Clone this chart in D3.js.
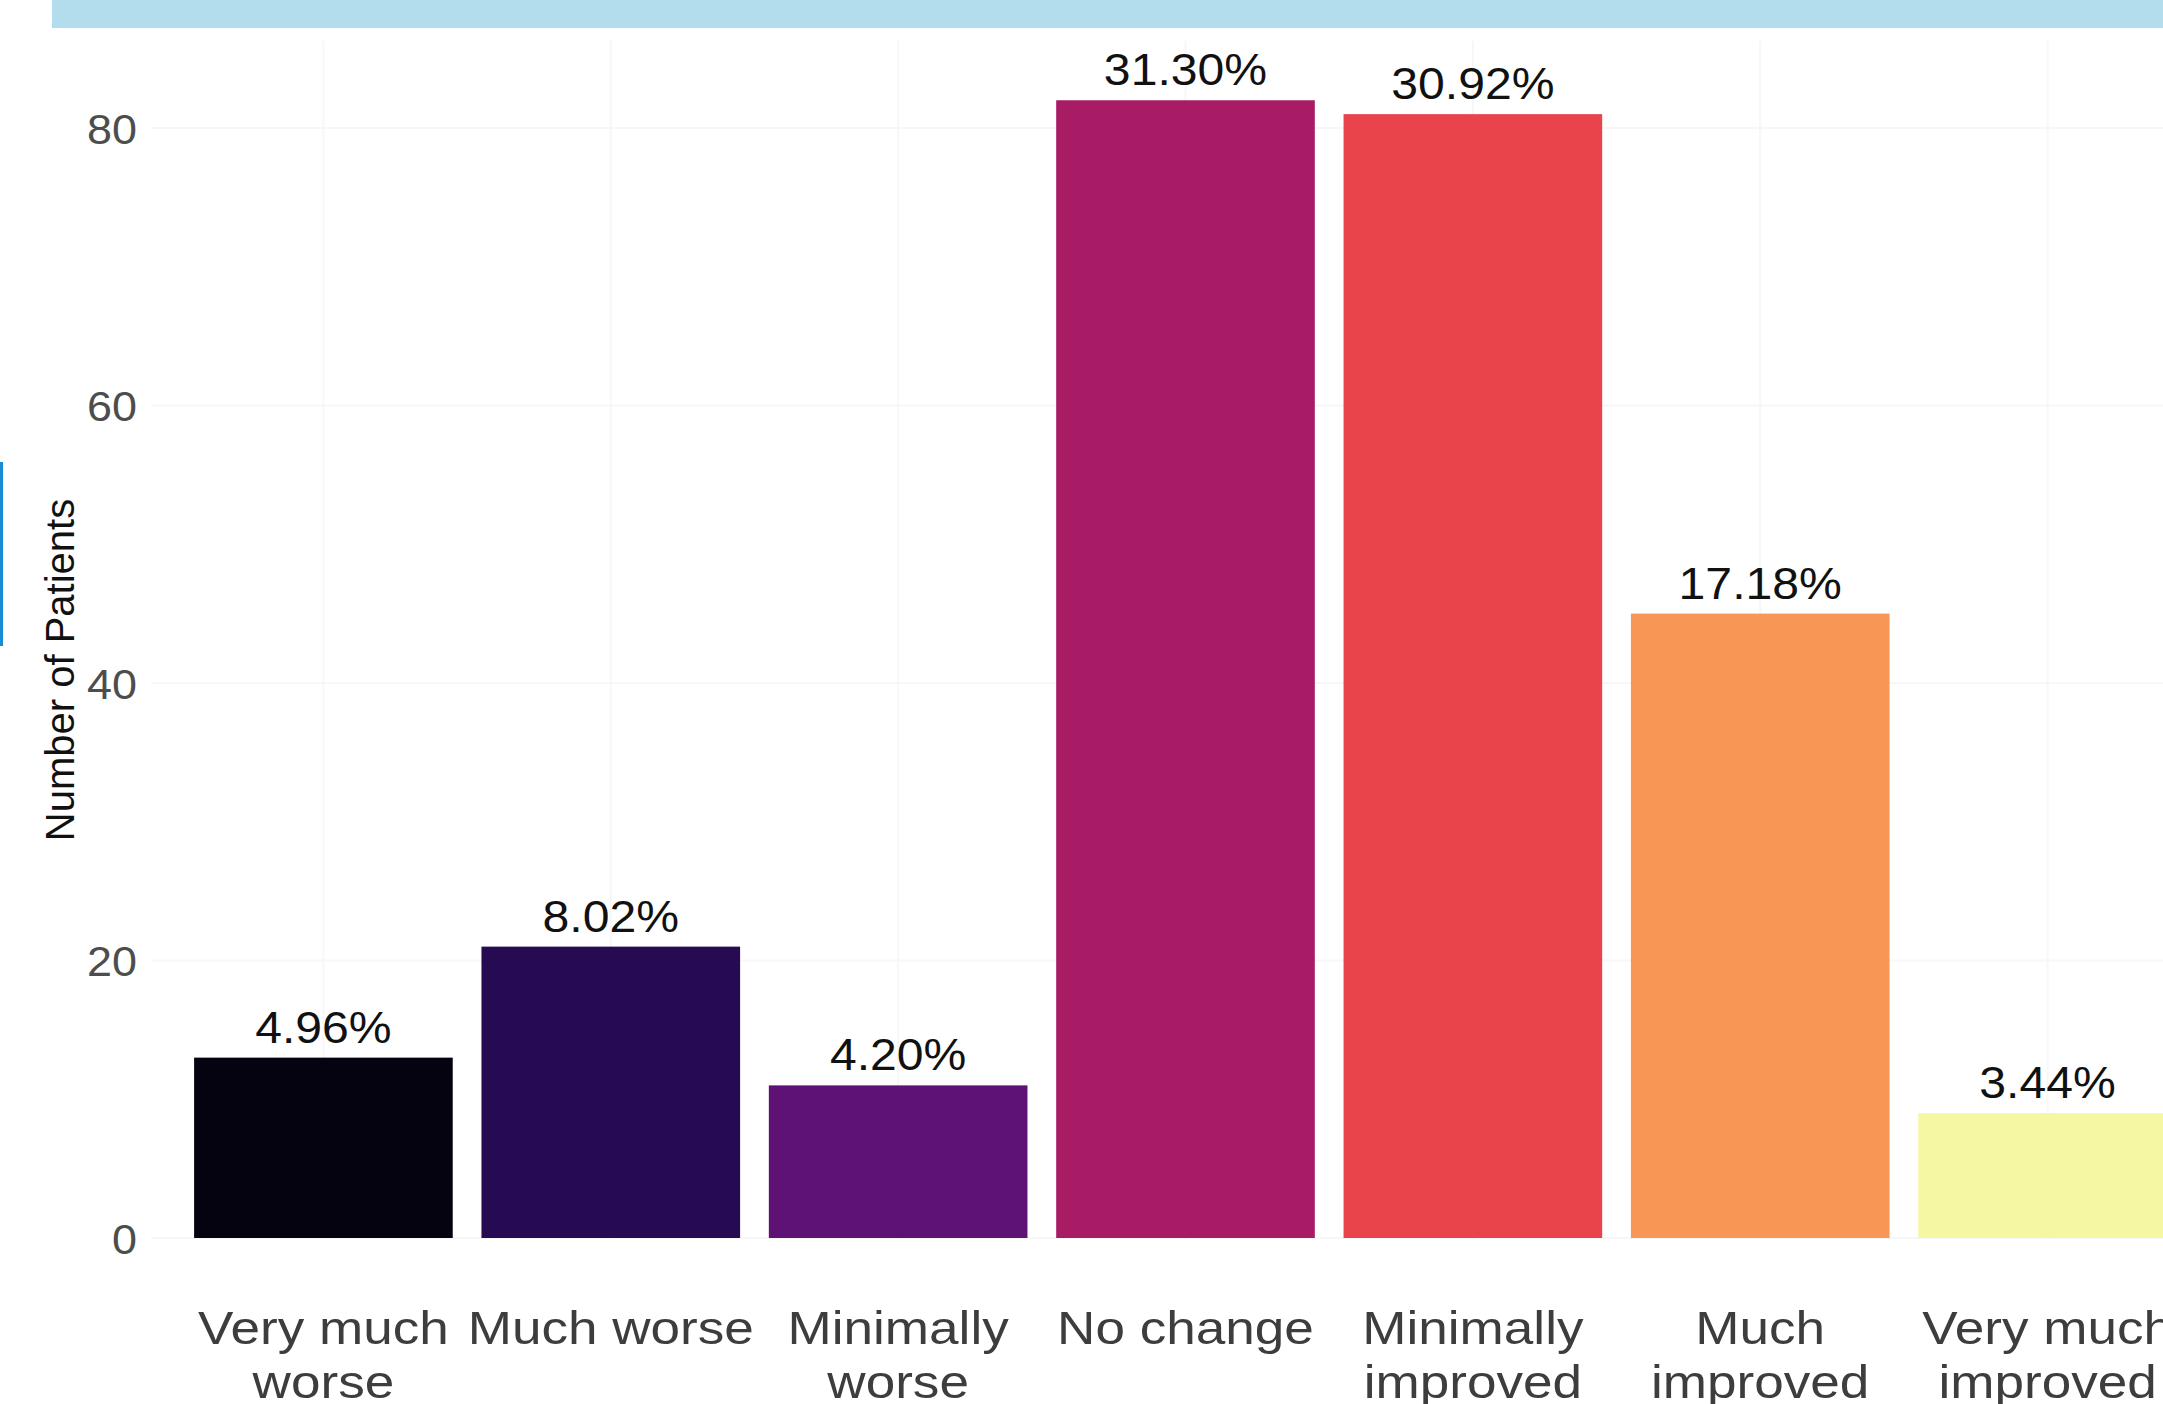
<!DOCTYPE html>
<html>
<head>
<meta charset="utf-8">
<script src="https://cdn.jsdelivr.net/npm/d3@7"></script>
<style>
    body { margin: 0; background: #ffffff; }
    svg { display: block; }
    text { font-family: "Liberation Sans", Arial, sans-serif; }
</style>
</head>
<body>
<script>
// values
var categories = ["Very much worse", "Much worse", "Minimally worse", "No change",
    "Minimally improved", "Much improved", "Very much improved"];
var categoryLines = [["Very much", "worse"], ["Much worse"], ["Minimally", "worse"], ["No change"],
    ["Minimally", "improved"], ["Much", "improved"], ["Very much", "improved"]];
var patients = [13, 21, 11, 82, 81, 45, 9];
var pctLabels = ["4.96%", "8.02%", "4.20%", "31.30%", "30.92%", "17.18%", "3.44%"];
var yTicks = [0, 20, 40, 60, 80];
var barColors = ["#060310", "#260b52", "#5e1276", "#a81c66", "#e9444b", "#f89656", "#f6f7a3"];

var W = 2163, H = 1404;
var svg, x, y;

function chart() {
    svg = d3.select("body").append("svg").attr("width", W).attr("height", H);

    // decorations around the plot
    svg.append("rect").attr("x", 52).attr("y", 0).attr("width", W - 52).attr("height", 28).attr("fill", "#b3dcec");
    svg.append("rect").attr("x", 0).attr("y", 462).attr("width", 3).attr("height", 184).attr("fill", "#1a8ad4");

    x = d3.scaleBand().domain(categories).range([151, 2220]).paddingInner(0.1).paddingOuter(0.15);
    y = d3.scaleLinear().domain([0, 80]).range([1238, 128]);

    // very faint grid (barely visible in the original)
    var grid = svg.append("g").attr("stroke", "#f7f7f7").attr("stroke-width", 2);
    grid.selectAll("line.h").data(yTicks).enter().append("line").attr("class", "h")
        .attr("x1", 151).attr("x2", W).attr("y1", y).attr("y2", y);
    grid.selectAll("line.v").data(categories).enter().append("line").attr("class", "v")
        .attr("x1", function (d) { return x(d) + x.bandwidth() / 2; })
        .attr("x2", function (d) { return x(d) + x.bandwidth() / 2; })
        .attr("y1", 41).attr("y2", 1240);

    svg.selectAll("rect.bar").data(categories).enter().append("rect").attr("class", "bar")
        .attr("x", function (d) { return x(d); })
        .attr("width", x.bandwidth())
        .attr("y", function (d, i) { return y(patients[i]); })
        .attr("height", function (d, i) { return y(0) - y(patients[i]); })
        .attr("fill", function (d, i) { return barColors[i]; });

    svg.selectAll("text.pct").data(categories).enter().append("text").attr("class", "pct")
        .attr("transform", function (d, i) {
            return "translate(" + (x(d) + x.bandwidth() / 2) + "," + (y(patients[i]) - 15) + ") scale(1.07,1)";
        })
        .attr("text-anchor", "middle").attr("font-size", 45).attr("fill", "#111")
        .text(function (d, i) { return pctLabels[i]; });

    // y axis
    var yAxis = d3.axisLeft(y).tickValues(yTicks).tickSize(0).tickPadding(0);
    var gy = svg.append("g").attr("transform", "translate(137,0)").call(yAxis);
    gy.select(".domain").remove();
    gy.selectAll("text").attr("font-size", 42).attr("fill", "#4d4d4d")
        .attr("font-family", "Liberation Sans, Arial, sans-serif")
        .attr("dy", "0.36em").attr("x", 0)
        .attr("transform", "scale(1.07,1)")
        .attr("transform-origin", function () { return "0 " + d3.select(this.parentNode).attr("transform").match(/,([\d.]+)/)[1]; });

    // x axis labels
    var gx = svg.append("g");
    gx.selectAll("text").data(categories).enter().append("text")
        .attr("transform", function (d) { return "translate(" + (x(d) + x.bandwidth() / 2) + ",1344) scale(1.13,1)"; })
        .attr("text-anchor", "middle").attr("font-size", 47).attr("fill", "#3d3d3d")
        .each(function (d, i) {
            var t = d3.select(this);
            categoryLines[i].forEach(function (line, j) {
                t.append("tspan").attr("x", 0).attr("y", j * 54).text(line);
            });
        });

    svg.append("text").attr("transform", "translate(74,670) rotate(-90)")
        .attr("text-anchor", "middle").attr("font-size", 40).attr("fill", "#111")
        .text("Number of Patients");
}

chart();
</script>
</body>
</html>
